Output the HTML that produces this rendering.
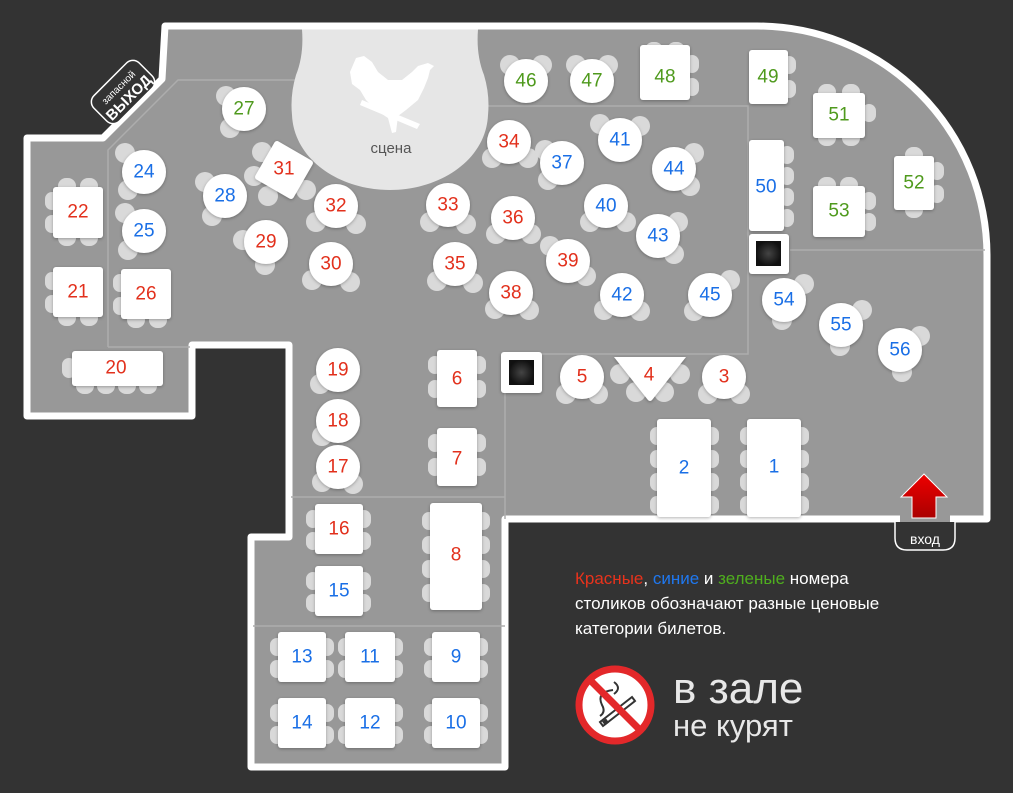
<!DOCTYPE html>
<html><head><meta charset="utf-8"><style>
html,body{margin:0;padding:0;background:#333;}
svg{display:block}
text{font-family:"Liberation Sans",sans-serif;}
.n{font-size:19px;text-anchor:middle;dominant-baseline:central}
.r{fill:#e2301c}.b{fill:#1a6fe6}.g{fill:#4f9a1d}
.t{fill:#fff;filter:url(#sh)}
.c{fill:#d9d9d9}
</style></head><body>
<svg width="1013" height="793" viewBox="0 0 1013 793" xmlns="http://www.w3.org/2000/svg">
<defs>
<filter id="sh" x="-30%" y="-30%" width="160%" height="160%"><feDropShadow dx="0" dy="1" stdDeviation="1.5" flood-color="#000" flood-opacity="0.3"/></filter>
<radialGradient id="pil"><stop offset="0" stop-color="#444"/><stop offset="1" stop-color="#111"/></radialGradient>
<linearGradient id="arr" x1="0" y1="0" x2="0" y2="1"><stop offset="0" stop-color="#e00"/><stop offset="1" stop-color="#a00"/></linearGradient>
</defs>
<rect width="1013" height="793" fill="#333"/>
<!-- floor -->
<path d="M165,26 L757,26 A230,230 0 0 1 987,256 L987,519 L505,519 L505,767 L251,767 L251,537 L289,537 L289,345 L192,345 L192,416 L27,416 L27,138 L103,138 L162,79 Z" fill="#989898" stroke="#fff" stroke-width="7" stroke-linejoin="round"/>
<!-- inner lines -->
<g stroke="#adadad" stroke-width="1.5" fill="none">
<path d="M108,347 L108,150 L178,80 L300,80"/>
<path d="M108,347 L190,347"/>
<path d="M480,106 L748,106 L748,354 L505,354 L505,519"/>
<path d="M790,250 L985,250"/>
<path d="M291,497 L505,497"/>
<path d="M253,626 L505,626"/>
</g>
<!-- stage -->
<path d="M302,29.5 L478,29.5 Q476,55 484,75 Q490,95 488,115 C486,160 440,190 390,190 C340,190 294,160 292,115 Q290,95 296,75 Q304,55 302,29.5 Z" fill="#e6e6e6"/>
<g fill="#fff">
<path d="M356,58 L364,56 L372,62 L378,72 L388,80 L402,80 L412,72 L418,66 L428,63 L434,66 L430,70 L428,78 L424,88 L418,100 L406,110 L398,116 L396,132 L392,133 L388,118 L376,110 L366,100 L360,90 L352,84 L350,72 Z"/>
<path d="M360,105 L362,100 L420,124 L417,129 Z"/>
</g>
<text x="391" y="153" font-size="15" fill="#555" text-anchor="middle">сцена</text>

<!-- chairs -->
<g class="c">
<circle cx="226" cy="96" r="10"/><circle cx="230" cy="128" r="10"/>
<circle cx="125" cy="153" r="10"/><circle cx="128" cy="190" r="10"/>
<circle cx="125" cy="213" r="10"/><circle cx="128" cy="250" r="10"/>
<circle cx="205" cy="182" r="10"/><circle cx="212" cy="216" r="10"/>
<circle cx="243" cy="240" r="10"/><circle cx="265" cy="265" r="10"/>
<circle cx="316" cy="222" r="10"/><circle cx="356" cy="224" r="10"/>
<circle cx="312" cy="280" r="10"/><circle cx="350" cy="282" r="10"/>
<circle cx="430" cy="222" r="10"/><circle cx="466" cy="224" r="10"/>
<circle cx="437" cy="281" r="10"/><circle cx="473" cy="283" r="10"/>
<circle cx="492" cy="158" r="10"/><circle cx="528" cy="158" r="10"/>
<circle cx="496" cy="234" r="10"/><circle cx="531" cy="234" r="10"/>
<circle cx="495" cy="309" r="10"/><circle cx="529" cy="310" r="10"/>
<circle cx="545" cy="150" r="10"/><circle cx="548" cy="180" r="10"/>
<circle cx="600" cy="124" r="10"/><circle cx="640" cy="126" r="10"/>
<circle cx="694" cy="153" r="10"/><circle cx="690" cy="186" r="10"/>
<circle cx="590" cy="222" r="10"/><circle cx="626" cy="222" r="10"/>
<circle cx="678" cy="222" r="10"/><circle cx="674" cy="254" r="10"/>
<circle cx="550" cy="246" r="10"/><circle cx="586" cy="276" r="10"/>
<circle cx="604" cy="310" r="10"/><circle cx="640" cy="311" r="10"/>
<circle cx="694" cy="311" r="10"/><circle cx="730" cy="280" r="10"/>
<circle cx="510" cy="65" r="10"/><circle cx="542" cy="65" r="10"/>
<circle cx="576" cy="65" r="10"/><circle cx="608" cy="65" r="10"/>
<circle cx="804" cy="284" r="10"/><circle cx="782" cy="320" r="10"/>
<circle cx="862" cy="310" r="10"/><circle cx="840" cy="346" r="10"/>
<circle cx="920" cy="336" r="10"/><circle cx="902" cy="372" r="10"/>
<circle cx="320" cy="384" r="10"/><circle cx="322" cy="436" r="10"/>
<circle cx="322" cy="482" r="10"/><circle cx="353" cy="484" r="10"/>
<circle cx="566" cy="394" r="10"/><circle cx="598" cy="394" r="10"/>
<circle cx="708" cy="394" r="10"/><circle cx="740" cy="394" r="10"/>
<circle cx="620" cy="374" r="10"/><circle cx="636" cy="392" r="10"/><circle cx="664" cy="392" r="10"/><circle cx="680" cy="374" r="10"/>
<circle cx="262" cy="152" r="10"/><circle cx="254" cy="176" r="10"/><circle cx="268" cy="196" r="10"/><circle cx="306" cy="190" r="10"/>
<rect x="58" y="178" width="18" height="16" rx="8"/><rect x="80" y="178" width="18" height="16" rx="8"/>
<rect x="58" y="230" width="18" height="16" rx="8"/><rect x="80" y="230" width="18" height="16" rx="8"/>
<rect x="45" y="192" width="14" height="18" rx="7"/><rect x="45" y="215" width="14" height="18" rx="7"/>
<rect x="45" y="272" width="14" height="18" rx="7"/><rect x="45" y="295" width="14" height="18" rx="7"/>
<rect x="58" y="310" width="18" height="16" rx="8"/><rect x="80" y="310" width="18" height="16" rx="8"/>
<rect x="113" y="274" width="14" height="18" rx="7"/><rect x="113" y="297" width="14" height="18" rx="7"/>
<rect x="127" y="312" width="18" height="16" rx="8"/><rect x="149" y="312" width="18" height="16" rx="8"/>
<rect x="62" y="358" width="14" height="20" rx="7"/>
<rect x="76" y="378" width="18" height="16" rx="8"/><rect x="97" y="378" width="18" height="16" rx="8"/><rect x="118" y="378" width="18" height="16" rx="8"/><rect x="139" y="378" width="18" height="16" rx="8"/>
<rect x="645" y="42" width="18" height="16" rx="8"/><rect x="667" y="42" width="18" height="16" rx="8"/>
<rect x="685" y="55" width="14" height="18" rx="7"/><rect x="685" y="78" width="14" height="18" rx="7"/>
<rect x="782" y="56" width="14" height="18" rx="7"/><rect x="782" y="80" width="14" height="18" rx="7"/>
<rect x="818" y="84" width="18" height="16" rx="8"/><rect x="842" y="84" width="18" height="16" rx="8"/>
<rect x="818" y="130" width="18" height="16" rx="8"/><rect x="842" y="130" width="18" height="16" rx="8"/>
<rect x="862" y="104" width="14" height="18" rx="7"/>
<rect x="780" y="146" width="14" height="18" rx="7"/><rect x="780" y="167" width="14" height="18" rx="7"/><rect x="780" y="188" width="14" height="18" rx="7"/><rect x="780" y="209" width="14" height="18" rx="7"/>
<rect x="818" y="177" width="18" height="16" rx="8"/><rect x="840" y="177" width="18" height="16" rx="8"/>
<rect x="862" y="192" width="14" height="18" rx="7"/><rect x="862" y="213" width="14" height="18" rx="7"/>
<rect x="905" y="147" width="18" height="16" rx="8"/><rect x="905" y="202" width="18" height="16" rx="8"/>
<rect x="930" y="162" width="14" height="18" rx="7"/><rect x="930" y="185" width="14" height="18" rx="7"/>
<rect x="428" y="356" width="14" height="18" rx="7"/><rect x="428" y="380" width="14" height="18" rx="7"/>
<rect x="472" y="356" width="14" height="18" rx="7"/><rect x="472" y="380" width="14" height="18" rx="7"/>
<rect x="428" y="434" width="14" height="18" rx="7"/><rect x="428" y="458" width="14" height="18" rx="7"/>
<rect x="472" y="434" width="14" height="18" rx="7"/><rect x="472" y="458" width="14" height="18" rx="7"/>
<rect x="422" y="512" width="14" height="18" rx="7"/><rect x="422" y="536" width="14" height="18" rx="7"/><rect x="422" y="560" width="14" height="18" rx="7"/><rect x="422" y="584" width="14" height="18" rx="7"/>
<rect x="476" y="512" width="14" height="18" rx="7"/><rect x="476" y="536" width="14" height="18" rx="7"/><rect x="476" y="560" width="14" height="18" rx="7"/><rect x="476" y="584" width="14" height="18" rx="7"/>
<rect x="306" y="510" width="14" height="18" rx="7"/><rect x="306" y="532" width="14" height="18" rx="7"/><rect x="357" y="510" width="14" height="18" rx="7"/><rect x="357" y="532" width="14" height="18" rx="7"/>
<rect x="306" y="572" width="14" height="18" rx="7"/><rect x="306" y="594" width="14" height="18" rx="7"/><rect x="357" y="572" width="14" height="18" rx="7"/><rect x="357" y="594" width="14" height="18" rx="7"/>
<rect x="270" y="638" width="14" height="18" rx="7"/><rect x="270" y="660" width="14" height="18" rx="7"/><rect x="320" y="638" width="14" height="18" rx="7"/><rect x="320" y="660" width="14" height="18" rx="7"/>
<rect x="338" y="638" width="14" height="18" rx="7"/><rect x="338" y="660" width="14" height="18" rx="7"/><rect x="389" y="638" width="14" height="18" rx="7"/><rect x="389" y="660" width="14" height="18" rx="7"/>
<rect x="424" y="638" width="14" height="18" rx="7"/><rect x="424" y="660" width="14" height="18" rx="7"/><rect x="474" y="638" width="14" height="18" rx="7"/><rect x="474" y="660" width="14" height="18" rx="7"/>
<rect x="270" y="704" width="14" height="18" rx="7"/><rect x="270" y="726" width="14" height="18" rx="7"/><rect x="320" y="704" width="14" height="18" rx="7"/><rect x="320" y="726" width="14" height="18" rx="7"/>
<rect x="338" y="704" width="14" height="18" rx="7"/><rect x="338" y="726" width="14" height="18" rx="7"/><rect x="389" y="704" width="14" height="18" rx="7"/><rect x="389" y="726" width="14" height="18" rx="7"/>
<rect x="424" y="704" width="14" height="18" rx="7"/><rect x="424" y="726" width="14" height="18" rx="7"/><rect x="474" y="704" width="14" height="18" rx="7"/><rect x="474" y="726" width="14" height="18" rx="7"/>
<rect x="650" y="427" width="14" height="18" rx="7"/><rect x="650" y="450" width="14" height="18" rx="7"/><rect x="650" y="473" width="14" height="18" rx="7"/><rect x="650" y="496" width="14" height="18" rx="7"/>
<rect x="705" y="427" width="14" height="18" rx="7"/><rect x="705" y="450" width="14" height="18" rx="7"/><rect x="705" y="473" width="14" height="18" rx="7"/><rect x="705" y="496" width="14" height="18" rx="7"/>
<rect x="740" y="427" width="14" height="18" rx="7"/><rect x="740" y="450" width="14" height="18" rx="7"/><rect x="740" y="473" width="14" height="18" rx="7"/><rect x="740" y="496" width="14" height="18" rx="7"/>
<rect x="795" y="427" width="14" height="18" rx="7"/><rect x="795" y="450" width="14" height="18" rx="7"/><rect x="795" y="473" width="14" height="18" rx="7"/><rect x="795" y="496" width="14" height="18" rx="7"/>
</g>

<!-- tables -->
<g class="t">
<circle cx="244" cy="109" r="22"/><circle cx="144" cy="172" r="22"/><circle cx="144" cy="231" r="22"/>
<circle cx="225" cy="196" r="22"/><circle cx="266" cy="242" r="22"/><circle cx="336" cy="206" r="22"/>
<circle cx="331" cy="264" r="22"/><circle cx="448" cy="205" r="22"/><circle cx="455" cy="264" r="22"/>
<circle cx="509" cy="142" r="22"/><circle cx="513" cy="218" r="22"/><circle cx="511" cy="293" r="22"/>
<circle cx="562" cy="163" r="22"/><circle cx="620" cy="140" r="22"/><circle cx="674" cy="169" r="22"/>
<circle cx="606" cy="206" r="22"/><circle cx="658" cy="236" r="22"/><circle cx="568" cy="261" r="22"/>
<circle cx="622" cy="295" r="22"/><circle cx="710" cy="295" r="22"/><circle cx="526" cy="81" r="22"/>
<circle cx="592" cy="81" r="22"/><circle cx="784" cy="300" r="22"/><circle cx="841" cy="325" r="22"/>
<circle cx="900" cy="350" r="22"/><circle cx="338" cy="370" r="22"/><circle cx="338" cy="421" r="22"/>
<circle cx="338" cy="467" r="22"/><circle cx="582" cy="377" r="22"/><circle cx="724" cy="377" r="22"/>
<rect x="53" y="187" width="50" height="51" rx="3"/><rect x="53" y="267" width="50" height="50" rx="3"/>
<rect x="121" y="269" width="50" height="50" rx="3"/><rect x="72" y="351" width="91" height="35" rx="3"/>
<rect x="262" y="148" width="44" height="44" rx="3" transform="rotate(30 284 170)"/>
<rect x="640" y="45" width="50" height="55" rx="3"/><rect x="749" y="50" width="39" height="54" rx="3"/>
<rect x="813" y="93" width="52" height="45" rx="3"/><rect x="749" y="140" width="35" height="91" rx="3"/>
<rect x="813" y="186" width="52" height="51" rx="3"/><rect x="894" y="156" width="40" height="54" rx="3"/>
<rect x="437" y="350" width="40" height="57" rx="3"/><rect x="437" y="428" width="40" height="58" rx="3"/>
<rect x="430" y="503" width="52" height="107" rx="3"/><rect x="315" y="504" width="48" height="50" rx="3"/>
<rect x="315" y="566" width="48" height="50" rx="3"/><rect x="278" y="632" width="48" height="50" rx="3"/>
<rect x="345" y="632" width="50" height="50" rx="3"/><rect x="432" y="632" width="48" height="50" rx="3"/>
<rect x="278" y="698" width="48" height="50" rx="3"/><rect x="345" y="698" width="50" height="50" rx="3"/>
<rect x="432" y="698" width="48" height="50" rx="3"/><rect x="657" y="419" width="54" height="98" rx="3"/>
<rect x="747" y="419" width="54" height="98" rx="3"/>
<path d="M614,357 L686,357 L652,400 Q650,402 648,400 Z"/>
<rect x="749" y="234" width="40" height="40" rx="3"/><rect x="501" y="352" width="41" height="41" rx="3"/>
</g>
<rect x="756" y="241" width="25" height="25" fill="url(#pil)"/>
<rect x="509" y="360" width="25" height="25" fill="url(#pil)"/>

<!-- numbers -->
<g class="n">
<text x="244" y="109" class="g">27</text><text x="144" y="172" class="b">24</text><text x="144" y="231" class="b">25</text>
<text x="225" y="196" class="b">28</text><text x="266" y="242" class="r">29</text><text x="336" y="206" class="r">32</text>
<text x="331" y="264" class="r">30</text><text x="448" y="205" class="r">33</text><text x="455" y="264" class="r">35</text>
<text x="509" y="142" class="r">34</text><text x="513" y="218" class="r">36</text><text x="511" y="293" class="r">38</text>
<text x="562" y="163" class="b">37</text><text x="620" y="140" class="b">41</text><text x="674" y="169" class="b">44</text>
<text x="606" y="206" class="b">40</text><text x="658" y="236" class="b">43</text><text x="568" y="261" class="r">39</text>
<text x="622" y="295" class="b">42</text><text x="710" y="295" class="b">45</text><text x="526" y="81" class="g">46</text>
<text x="592" y="81" class="g">47</text><text x="784" y="300" class="b">54</text><text x="841" y="325" class="b">55</text>
<text x="900" y="350" class="b">56</text><text x="338" y="370" class="r">19</text><text x="338" y="421" class="r">18</text>
<text x="338" y="467" class="r">17</text><text x="582" y="377" class="r">5</text><text x="724" y="377" class="r">3</text>
<text x="78" y="212" class="r">22</text><text x="78" y="292" class="r">21</text><text x="146" y="294" class="r">26</text>
<text x="116" y="368" class="r">20</text><text x="284" y="169" class="r">31</text>
<text x="665" y="77" class="g">48</text><text x="768" y="77" class="g">49</text><text x="839" y="115" class="g">51</text>
<text x="766" y="187" class="b">50</text><text x="839" y="211" class="g">53</text><text x="914" y="183" class="g">52</text>
<text x="457" y="379" class="r">6</text><text x="457" y="459" class="r">7</text><text x="456" y="555" class="r">8</text>
<text x="339" y="529" class="r">16</text><text x="339" y="591" class="b">15</text><text x="302" y="657" class="b">13</text>
<text x="370" y="657" class="b">11</text><text x="456" y="657" class="b">9</text><text x="302" y="723" class="b">14</text>
<text x="370" y="723" class="b">12</text><text x="456" y="723" class="b">10</text><text x="684" y="468" class="b">2</text>
<text x="774" y="467" class="b">1</text><text x="649" y="375" class="r">4</text>
</g>

<!-- emergency exit -->
<g transform="translate(123,92) rotate(-45)">
<rect x="-32" y="-18" width="64" height="36" rx="9" fill="#333" stroke="#fff" stroke-width="1.5"/>
<text x="0" y="-3" font-size="10" fill="#fff" text-anchor="middle">запасной</text>
<text x="0" y="13" font-size="15" font-weight="bold" fill="#fff" text-anchor="middle">ВЫХОД</text>
</g>
<rect x="900" y="512" width="50" height="12" fill="#989898"/>
<!-- entrance -->
<path d="M895,522 L895,538 Q895,550 907,550 L943,550 Q955,550 955,538 L955,522" fill="#333" stroke="#fff" stroke-width="1.5"/>
<text x="925" y="544" font-size="14" fill="#fff" text-anchor="middle">вход</text>
<path d="M901,497 L924,474 L947,497 L936,497 L936,518 L912,518 L912,497 Z" fill="url(#arr)" stroke="#fff" stroke-width="1"/>

<!-- legend -->
<g font-size="17" fill="#fff" style="font-family:'Liberation Sans Narrow','Liberation Sans',sans-serif">
<text x="575" y="584"><tspan fill="#e8331c">Красные</tspan>, <tspan fill="#1f78f0">синие</tspan> и <tspan fill="#4fae1e">зеленые</tspan> номера</text>
<text x="575" y="609">столиков обозначают разные ценовые</text>
<text x="575" y="634">категории билетов.</text>
</g>
<circle cx="615" cy="705" r="36" fill="#fff" stroke="#e3282a" stroke-width="7"/>
<g stroke="#333" fill="none" stroke-width="2">
<path d="M600,722 L632,697 L635,701 L603,726 Z" fill="#fff"/>
<path d="M604,720 L607,724" stroke-width="5"/>
<path d="M613,690 Q596,692 602,705 Q606,712 600,716"/>
<path d="M614,682 Q622,688 614,694"/>
</g>
<line x1="590" y1="680" x2="640" y2="730" stroke="#e3282a" stroke-width="7"/>
<text x="673" y="703" font-size="44" fill="#e8e8e8">в зале</text>
<text x="673" y="736" font-size="31" fill="#e8e8e8">не курят</text>
</svg>
</body></html>
